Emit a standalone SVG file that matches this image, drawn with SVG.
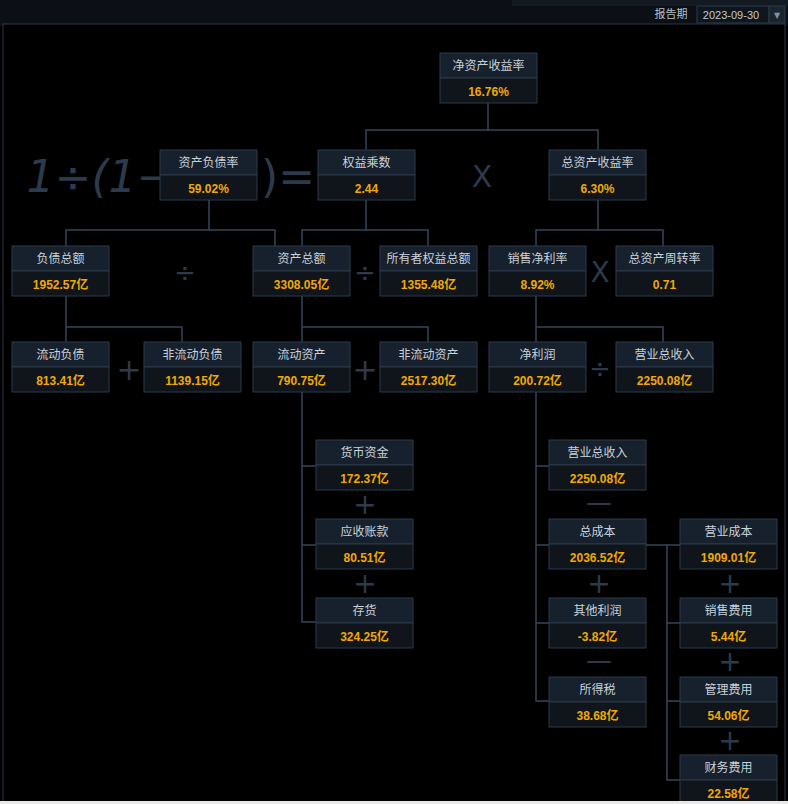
<svg xmlns="http://www.w3.org/2000/svg" width="788" height="804" viewBox="0 0 788 804">
<style>
.h{fill:#16212d;stroke:#2b3a4a;stroke-width:1}
.v{fill:#10151b;stroke:#2b3a4a;stroke-width:1}
.t{font-family:"Noto Sans CJK SC","Liberation Sans",sans-serif;font-size:12px;fill:#c9d1da;text-anchor:middle}
.n{font-family:"Liberation Sans","Noto Sans CJK SC",sans-serif;font-size:12px;font-weight:bold;fill:#f2a900;text-anchor:middle}
.op{font-family:"DejaVu Sans",sans-serif;fill:#2c3a4b;text-anchor:middle}
#conn path{fill:none;stroke:#34465a;stroke-width:1.5}
</style>
<rect width="788" height="804" fill="#000"/>
<rect x="0" y="0" width="788" height="26" fill="#0c1016"/>
<rect x="512" y="0" width="276" height="6" fill="#131a22"/>
<rect x="3" y="24" width="782" height="778" fill="#000" stroke="#2b3644" stroke-width="1"/>
<text x="671" y="18" font-family="Noto Sans CJK SC,sans-serif" font-size="11" fill="#b8c0c8" text-anchor="middle">报告期</text>
<rect x="697" y="6" width="72" height="17" fill="#10161d" stroke="#2b3a4a"/>
<rect x="769" y="6" width="16" height="17" fill="#1b2530" stroke="#2b3a4a"/>
<text x="731" y="19" font-family="Liberation Sans,sans-serif" font-size="11" fill="#c0c8d0" text-anchor="middle">2023-09-30</text>
<text x="777" y="18" font-family="DejaVu Sans,sans-serif" font-size="8" fill="#8090a0" text-anchor="middle">▼</text>
<g id="formula">
<text x="100" y="192" class="op" font-size="44" font-style="italic" font-family="Liberation Sans,sans-serif">1÷(1−</text>
<text x="288" y="192" class="op" font-size="44" font-family="Liberation Sans,sans-serif">)=</text>
<text x="482" y="187" class="op" font-size="30" font-family="Liberation Sans,sans-serif">X</text>
<text x="185" y="282" class="op" font-size="26">÷</text>
<text x="365" y="282" class="op" font-size="26">÷</text>
<text x="600" y="282" class="op" font-size="28" font-family="Liberation Sans,sans-serif">X</text>
<text x="129" y="380" class="op" font-size="30">+</text>
<text x="365" y="380" class="op" font-size="30">+</text>
<text x="600" y="378" class="op" font-size="26">÷</text>
<text x="365" y="514" class="op" font-size="28">+</text>
<text x="365" y="593" class="op" font-size="28">+</text>
<text x="599" y="511" class="op" font-size="26">—</text>
<text x="599" y="593" class="op" font-size="28">+</text>
<text x="599" y="669" class="op" font-size="26">—</text>
<text x="730" y="593" class="op" font-size="28">+</text>
<text x="730" y="671" class="op" font-size="28">+</text>
<text x="730" y="750" class="op" font-size="28">+</text>
</g>
<g id="conn">
<path d="M488 103V130M366 150V130H598V150"/>
<path d="M209 200V230M66 246V230H275V246"/>
<path d="M366 200V230M302 246V230H428V246"/>
<path d="M598 200V230M536 246V230H663V246"/>
<path d="M66 296V327M66 342V327H182V342"/>
<path d="M302 296V327M302 342V327H428V342"/>
<path d="M536 296V327M536 342V327H663V342"/>
<path d="M302 392V622H316M302 466H316M302 545H316"/>
<path d="M536 392V701H549M536 466H549M536 545H549M536 623H549"/>
<path d="M646 545H680M667 545V780H680M667 623H680M667 701H680"/>
</g>
<defs>
<g id="box"><rect class="h" x="0" y="0" width="97" height="25"/><rect class="v" x="0" y="25" width="97" height="25"/></g>
</defs>
<g id="roe"><use href="#box" x="440" y="53"/><text class="t" x="488.5" y="70">净资产收益率</text><text class="n" x="488.5" y="96">16.76%</text></g>
<g id="zcfzl"><use href="#box" x="160" y="150"/><text class="t" x="208.5" y="167">资产负债率</text><text class="n" x="208.5" y="193">59.02%</text></g>
<g id="qycs"><use href="#box" x="318" y="150"/><text class="t" x="366.5" y="167">权益乘数</text><text class="n" x="366.5" y="193">2.44</text></g>
<g id="zzcsyl"><use href="#box" x="549" y="150"/><text class="t" x="597.5" y="167">总资产收益率</text><text class="n" x="597.5" y="193">6.30%</text></g>
<g id="fzze"><use href="#box" x="12" y="246"/><text class="t" x="60.5" y="263">负债总额</text><text class="n" x="60.5" y="289">1952.57亿</text></g>
<g id="zcze"><use href="#box" x="253" y="246"/><text class="t" x="301.5" y="263">资产总额</text><text class="n" x="301.5" y="289">3308.05亿</text></g>
<g id="syzqy"><use href="#box" x="380" y="246"/><text class="t" x="428.5" y="263">所有者权益总额</text><text class="n" x="428.5" y="289">1355.48亿</text></g>
<g id="xsjll"><use href="#box" x="489" y="246"/><text class="t" x="537.5" y="263">销售净利率</text><text class="n" x="537.5" y="289">8.92%</text></g>
<g id="zzczzl"><use href="#box" x="616" y="246"/><text class="t" x="664.5" y="263">总资产周转率</text><text class="n" x="664.5" y="289">0.71</text></g>
<g id="ldfz"><use href="#box" x="12" y="342"/><text class="t" x="60.5" y="359">流动负债</text><text class="n" x="60.5" y="385">813.41亿</text></g>
<g id="fldfz"><use href="#box" x="144" y="342"/><text class="t" x="192.5" y="359">非流动负债</text><text class="n" x="192.5" y="385">1139.15亿</text></g>
<g id="ldzc"><use href="#box" x="253" y="342"/><text class="t" x="301.5" y="359">流动资产</text><text class="n" x="301.5" y="385">790.75亿</text></g>
<g id="fldzc"><use href="#box" x="380" y="342"/><text class="t" x="428.5" y="359">非流动资产</text><text class="n" x="428.5" y="385">2517.30亿</text></g>
<g id="jlr"><use href="#box" x="489" y="342"/><text class="t" x="537.5" y="359">净利润</text><text class="n" x="537.5" y="385">200.72亿</text></g>
<g id="yyzsr1"><use href="#box" x="616" y="342"/><text class="t" x="664.5" y="359">营业总收入</text><text class="n" x="664.5" y="385">2250.08亿</text></g>
<g id="hbzj"><use href="#box" x="316" y="440"/><text class="t" x="364.5" y="457">货币资金</text><text class="n" x="364.5" y="483">172.37亿</text></g>
<g id="yszk"><use href="#box" x="316" y="519"/><text class="t" x="364.5" y="536">应收账款</text><text class="n" x="364.5" y="562">80.51亿</text></g>
<g id="ch"><use href="#box" x="316" y="598"/><text class="t" x="364.5" y="615">存货</text><text class="n" x="364.5" y="641">324.25亿</text></g>
<g id="yyzsr2"><use href="#box" x="549" y="440"/><text class="t" x="597.5" y="457">营业总收入</text><text class="n" x="597.5" y="483">2250.08亿</text></g>
<g id="zcb"><use href="#box" x="549" y="519"/><text class="t" x="597.5" y="536">总成本</text><text class="n" x="597.5" y="562">2036.52亿</text></g>
<g id="qtlr"><use href="#box" x="549" y="598"/><text class="t" x="597.5" y="615">其他利润</text><text class="n" x="597.5" y="641">-3.82亿</text></g>
<g id="sds"><use href="#box" x="549" y="677"/><text class="t" x="597.5" y="694">所得税</text><text class="n" x="597.5" y="720">38.68亿</text></g>
<g id="yycb"><use href="#box" x="680" y="519"/><text class="t" x="728.5" y="536">营业成本</text><text class="n" x="728.5" y="562">1909.01亿</text></g>
<g id="xsfy"><use href="#box" x="680" y="598"/><text class="t" x="728.5" y="615">销售费用</text><text class="n" x="728.5" y="641">5.44亿</text></g>
<g id="glfy"><use href="#box" x="680" y="677"/><text class="t" x="728.5" y="694">管理费用</text><text class="n" x="728.5" y="720">54.06亿</text></g>
<g id="cwfy"><use href="#box" x="680" y="755"/><text class="t" x="728.5" y="772">财务费用</text><text class="n" x="728.5" y="798">22.58亿</text></g>
<rect x="0" y="801" width="788" height="3" fill="#e8e8e8"/>
</svg>
